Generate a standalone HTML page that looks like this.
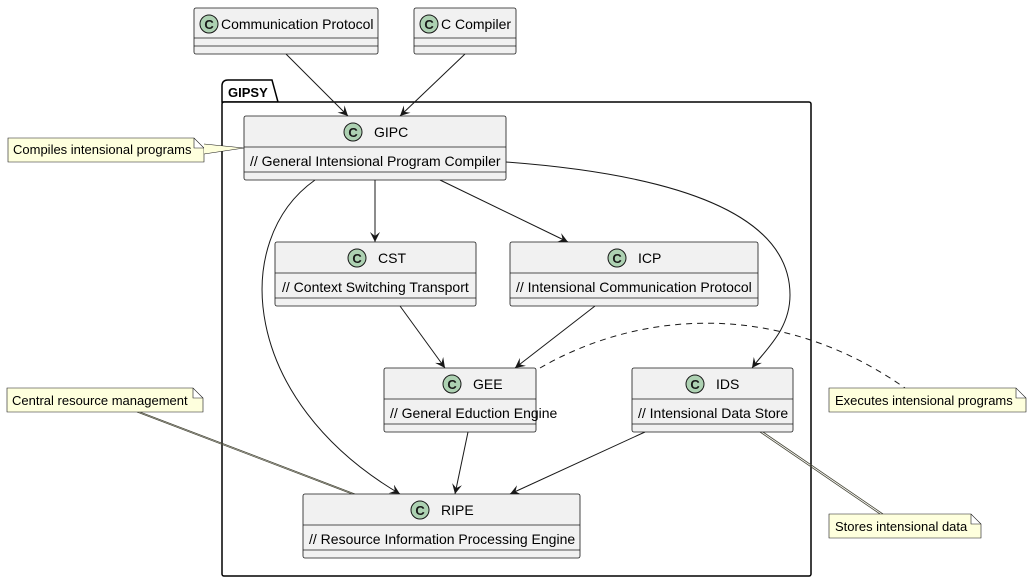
<!DOCTYPE html>
<html><head><meta charset="utf-8"><style>
html,body{margin:0;padding:0;background:#fff;}
svg{display:block;font-family:"Liberation Sans",Arial,sans-serif;}
</style></head><body>
<svg width="1033" height="581" viewBox="0 0 1033 581" xmlns="http://www.w3.org/2000/svg">
<defs>
<marker id="a" markerWidth="12" markerHeight="10" refX="10" refY="5" orient="auto" markerUnits="userSpaceOnUse">
<path d="M0,0 L10,5 L0,10 L4,5 Z" fill="#181818"/></marker>
<g id="ci"><circle r="9" fill="#ADD1B2" stroke="#181818" stroke-width="1"/><text y="5" text-anchor="middle" font-size="13" font-weight="bold" fill="#181818">C</text></g>
</defs>
<path d="M222,102 L222,86 Q222,80 228,80 L272,80 L278,102 Z" fill="#fff" stroke="#000" stroke-width="1.5"/>
<rect x="222" y="102" width="589" height="474" rx="2" fill="#fff" stroke="#000" stroke-width="1.5"/>
<text x="228" y="97" font-size="13" font-weight="bold">GIPSY</text>

<g stroke="#181818" fill="none" stroke-width="1" marker-end="url(#a)">
<path d="M286,54 L348,116"/>
<path d="M465,54 L400,116"/>
<path d="M375,180 L375,242"/>
<path d="M440,180 L568,242"/>
<path d="M315,180 C230,240 240,400 400,494"/>
<path d="M506,162 C680,175 790,215 790,295 C790,330 765,350 752,368"/>
<path d="M400,306 L445,368"/>
<path d="M595,306 L515,368"/>
<path d="M468,432 L455,494"/>
<path d="M645,432 L510,494"/>
</g>
<path d="M540,368 C640,310 780,300 905,388" stroke="#181818" fill="none" stroke-dasharray="6,5"/>
<path d="M140,412 L355,494 M137,412 L352,494" stroke="#4a4a3a" stroke-width="0.8" fill="none"/>
<path d="M760,432 L880,514 M763,432 L883,514" stroke="#4a4a3a" stroke-width="0.8" fill="none"/>

<g stroke="#181818" stroke-width="0.8" fill="#F1F1F1">
<rect x="194" y="8" width="184" height="46" rx="2"/>
<line x1="194" y1="38" x2="378" y2="38"/><line x1="194" y1="46" x2="378" y2="46"/>
<rect x="414" y="8" width="102" height="46" rx="2"/>
<line x1="414" y1="38" x2="516" y2="38"/><line x1="414" y1="46" x2="516" y2="46"/>
<rect x="244" y="116" width="262" height="64" rx="2"/>
<line x1="244" y1="147" x2="506" y2="147"/><line x1="244" y1="172" x2="506" y2="172"/>
<rect x="275" y="242" width="201" height="64" rx="2"/>
<line x1="275" y1="273" x2="476" y2="273"/><line x1="275" y1="298" x2="476" y2="298"/>
<rect x="510" y="242" width="248" height="64" rx="2"/>
<line x1="510" y1="273" x2="758" y2="273"/><line x1="510" y1="298" x2="758" y2="298"/>
<rect x="384" y="368" width="152" height="64" rx="2"/>
<line x1="384" y1="399" x2="536" y2="399"/><line x1="384" y1="424" x2="536" y2="424"/>
<rect x="632" y="368" width="161" height="64" rx="2"/>
<line x1="632" y1="399" x2="793" y2="399"/><line x1="632" y1="424" x2="793" y2="424"/>
<rect x="303" y="494" width="277" height="64" rx="2"/>
<line x1="303" y1="525" x2="580" y2="525"/><line x1="303" y1="550" x2="580" y2="550"/>
</g>
<g font-size="14">
<use href="#ci" x="209" y="24"/><text x="221" y="29">Communication Protocol</text>
<use href="#ci" x="429" y="24"/><text x="441" y="29">C Compiler</text>
<use href="#ci" x="353" y="132"/><text x="374" y="137">GIPC</text>
<text x="250" y="166">// General Intensional Program Compiler</text>
<use href="#ci" x="357" y="258"/><text x="378" y="263">CST</text>
<text x="282" y="292">// Context Switching Transport</text>
<use href="#ci" x="617" y="258"/><text x="638" y="263">ICP</text>
<text x="516" y="292">// Intensional Communication Protocol</text>
<use href="#ci" x="452" y="384"/><text x="473" y="389">GEE</text>
<text x="390" y="418">// General Eduction Engine</text>
<use href="#ci" x="695" y="384"/><text x="716" y="389">IDS</text>
<text x="638" y="418">// Intensional Data Store</text>
<use href="#ci" x="420" y="510"/><text x="441" y="515">RIPE</text>
<text x="309" y="544">// Resource Information Processing Engine</text>
</g>

<g fill="#FEFFDD" stroke="#181818" stroke-width="0.6">
<path d="M8,138 L194,138 L204,148 L204,162 L8,162 Z M194,138 L194,148 L204,148"/>
<path d="M204,144 L244,148 L204,154 Z" stroke="none"/>
<path d="M204,144 L244,148 L204,154" fill="none"/>
<path d="M7,388 L193,388 L203,398 L203,412 L7,412 Z M193,388 L193,398 L203,398"/>
<path d="M829,388 L1016,388 L1026,398 L1026,412 L829,412 Z M1016,388 L1016,398 L1026,398"/>
<path d="M829,514 L971,514 L981,524 L981,538 L829,538 Z M971,514 L971,524 L981,524"/>
</g>
<g font-size="13" fill="#000">
<text x="13" y="154">Compiles intensional programs</text>
<text x="12" y="405">Central resource management</text>
<text x="835" y="405">Executes intensional programs</text>
<text x="835" y="531">Stores intensional data</text>
</g>
</svg>
</body></html>
